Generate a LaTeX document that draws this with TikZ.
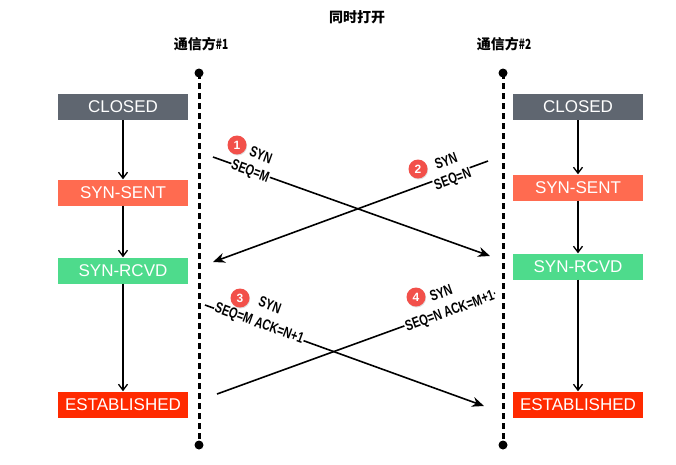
\documentclass[tikz,border=0pt]{standalone}
\usepackage{graphicx}
\usepackage{fontspec}
\setmainfont{Liberation Sans}
\newfontfamily\cjk{Noto Sans CJK SC}
\usetikzlibrary{arrows.meta,shadows}
\definecolor{cgray}{HTML}{5F6670}
\definecolor{csent}{HTML}{FF6B50}
\definecolor{crcvd}{HTML}{4EDB8C}
\definecolor{cest}{HTML}{FF2A00}
\definecolor{cbadge}{HTML}{F2504A}
\tikzset{
  statebox/.style={minimum width=130pt,minimum height=26pt,inner sep=0pt,text=white,font=\fontsize{17}{17}\selectfont},
  lifeline/.style={line width=3pt,dash pattern=on 6pt off 4pt},
  enddot/.style={circle,fill=black,inner sep=0pt,minimum size=9pt},
  vflow/.style={line width=1.3pt,-{Straight Barb[length=6pt,width=9pt,line width=1.3pt]}},
  msg/.style={line width=1.6pt},
  msgarrow/.style={line width=1.6pt,-{Stealth[length=12pt,width=10pt]}},
  lbl/.style={fill=white,inner sep=1pt,xscale=0.74,font=\bfseries\fontsize{15}{15}\selectfont},
  syn/.style={inner sep=0pt,xscale=0.74,font=\bfseries\fontsize{15}{15}\selectfont},
  badge/.style={circle,fill=cbadge,text=white,inner sep=0pt,minimum size=19pt,font=\bfseries\fontsize{12}{12}\selectfont,drop shadow={opacity=0.25,shadow xshift=0.6pt,shadow yshift=-1pt}},
  title/.style={font=\cjk\bfseries\fontsize{14}{14}\selectfont}
}
\begin{document}
\begin{tikzpicture}[x=1pt,y=-1pt]
\useasboundingbox (0,0) rectangle (676,464);
% titles
\node[title] (t) at (357,17) {同时打开};
\node[title] (p1) at (201,44) {通信方\scalebox{0.72}[1]{\bfseries\fontsize{14}{14}\selectfont\#1}};
\node[title] (p2) at (504,44) {通信方\scalebox{0.72}[1]{\bfseries\fontsize{14}{14}\selectfont\#2}};
% lifelines
\node[enddot] (l1t) at (199,73) {};
\node[enddot] (l1b) at (199,445) {};
\node[enddot] (l2t) at (503,73) {};
\node[enddot] (l2b) at (503,445) {};
\draw[lifeline] (l1t.center) -- (l1b.center);
\draw[lifeline] (l2t.center) -- (l2b.center);
% left states
\node[statebox,fill=cgray] (c1) at (123,107) {CLOSED};
\node[statebox,fill=csent] (s1) at (123,192.5) {SYN-SENT};
\node[statebox,fill=crcvd] (r1) at (123,270.5) {SYN-RCVD};
\node[statebox,fill=cest] (e1) at (123,404.5) {ESTABLISHED};
\draw[vflow] (c1) -- (s1);
\draw[vflow] (s1) -- (r1);
\draw[vflow] (r1) -- (e1);
% right states
\node[statebox,fill=cgray] (c2) at (578,107) {CLOSED};
\node[statebox,fill=csent] (s2) at (578,187.5) {SYN-SENT};
\node[statebox,fill=crcvd] (r2) at (578,266.5) {SYN-RCVD};
\node[statebox,fill=cest] (e2) at (578,404.5) {ESTABLISHED};
\draw[vflow] (c2) -- (s2);
\draw[vflow] (s2) -- (r2);
\draw[vflow] (r2) -- (e2);
% message endpoints
\coordinate (m1a) at (213,157);
\coordinate (m1b) at (490,256);
\coordinate (m2a) at (488,161);
\coordinate (m2b) at (213,262);
\coordinate (m3a) at (205,305);
\coordinate (m3b) at (484,406);
\coordinate (m4a) at (495,293);
\coordinate (m4b) at (217,394);
\draw[msgarrow] (m1a) -- (m1b);
\draw[msgarrow] (m2a) -- (m2b);
\draw[msgarrow] (m3a) -- (m3b);
\draw[msg] (m4a) -- (m4b);
% labels 1
\node[rotate=-20,lbl] (q1) at (250,172) {SEQ=M};
\node[rotate=-20,syn] (y1) at (261,155) {SYN};
\node[badge] (b1) at (237,145) {1};
% labels 2
\node[rotate=20,lbl] (q2) at (453,180) {SEQ=N};
\node[rotate=20,syn] (y2) at (446,161) {SYN};
\node[badge] (b2) at (418,169) {2};
% labels 3
\node[rotate=-20,lbl] (q3) at (259,324) {SEQ=M ACK=N+1};
\node[rotate=-20,syn] (y3) at (270,305) {SYN};
\node[badge] (b3) at (240,298) {3};
% labels 4
\node[rotate=20,lbl] (q4) at (450,312) {SEQ=N ACK=M+1};
\node[rotate=20,syn] (y4) at (441,293) {SYN};
\node[badge] (b4) at (416,297) {4};
\end{tikzpicture}
\end{document}
